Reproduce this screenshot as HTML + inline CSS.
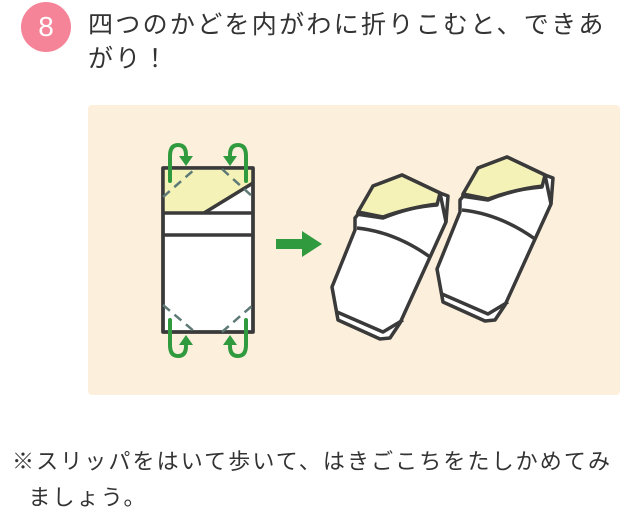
<!DOCTYPE html>
<html><head><meta charset="utf-8"><style>
body{margin:0;width:640px;height:512px;background:#fff;position:relative;overflow:hidden;font-family:"Liberation Sans","Noto Sans CJK JP",sans-serif;color:#333}
.badge{position:absolute;left:21px;top:2px;width:50px;height:50px;border-radius:50%;background:#f58499;color:#fff;font-size:28px;text-align:center;line-height:50px}
.t{position:absolute;white-space:nowrap}
.panel{position:absolute;left:88px;top:105px;width:532px;height:290px;background:#fcf0dc;border-radius:4px}
</style></head><body>
<div class="badge">8</div>
<div class="t" style="left:88px;top:8px;font-size:25px;letter-spacing:2.3px;line-height:34px">四つのかどを内がわに折りこむと、できあ<br>がり！</div>
<div class="panel"></div>
<svg style="position:absolute;left:0;top:0" width="640" height="512">
<g stroke="#3a3a3a" stroke-width="3.5" stroke-linejoin="round">
<rect x="163" y="168" width="90" height="164" fill="#fff"/>
<polygon points="163,168 253,168 253,183 204,213 163,213" fill="#f5f2b8" stroke="none"/>
<line x1="204" y1="213" x2="253" y2="183"/>
<line x1="163" y1="213" x2="253" y2="213"/>
<line x1="163" y1="235" x2="253" y2="235"/>
<rect x="163" y="168" width="90" height="164" fill="none"/>
</g>
<g stroke="#5e7a76" stroke-width="2.5" stroke-dasharray="9,6" fill="none">
<line x1="163" y1="197" x2="195" y2="169"/>
<line x1="222" y1="169" x2="253" y2="197"/>
<line x1="163" y1="305" x2="195" y2="332"/>
<line x1="222" y1="332" x2="253" y2="305"/>
</g>
<g stroke="#2f9a3e" stroke-width="4" fill="none" stroke-linecap="round">
<path d="M170,181 V156 Q170,145 178,145 Q186,145 186,155"/>
<path d="M246,181 V156 Q246,145 238,145 Q230,145 230,155"/>
<path d="M170,320 V345 Q170,356 178,356 Q186,356 186,346"/>
<path d="M246,320 V345 Q246,356 238,356 Q230,356 230,346"/>
</g>
<g fill="#2f9a3e">
<polygon points="179,156 193,156 186,166"/>
<polygon points="223,156 237,156 230,166"/>
<polygon points="179,345 193,345 186,335"/>
<polygon points="223,345 237,345 230,335"/>
<rect x="276" y="239" width="28" height="10"/>
<polygon points="302,231 322,244 302,257"/>
</g>
<g id="s" stroke="#3a3a3a" stroke-width="3.5" stroke-linejoin="round" fill="#fff">
<polygon points="360,212 373,186 402,175 440,193 448,196 446,222 400,323 390,338 380,339 338,320 332,287 355,230 355,218"/>
<path d="M358,212 L373,186 L402,175 L440,193 L437,205 Q410,207 383,217 Z" fill="#f5f2b8"/>
<path d="M356,214 L383,218 Q410,207 438,204" fill="none"/>
<path d="M357,228 Q395,232 430,257" fill="none"/>
<path d="M440,193 L446,222" fill="none"/>
<path d="M337,312 L383,332 L403,320" fill="none"/>
</g>
<use href="#s" transform="translate(105,-18)"/>
</svg>
<div class="t" style="left:12px;top:444px;font-size:22px;letter-spacing:2.1px;line-height:36px">※スリッパをはいて歩いて、はきごこちをたしかめてみ<br>&nbsp;&nbsp;ましょう。</div>
</body></html>
